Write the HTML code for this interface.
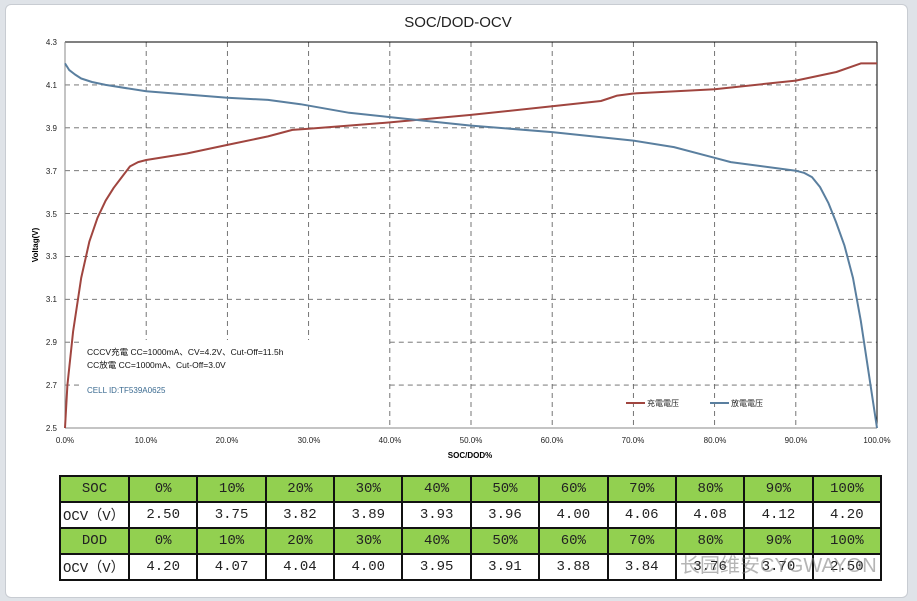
<!DOCTYPE html>
<html><head><meta charset="utf-8"><style>
body{margin:0;width:917px;height:601px;background:#dfe3e8;overflow:hidden;font-family:"Liberation Sans","Noto Sans CJK SC",sans-serif}
.panel{position:absolute;left:5px;top:4px;width:901px;height:592px;background:#fff;border:1px solid #c8ccd2;border-radius:6px}
table{position:absolute;left:59px;top:475px;width:823px;table-layout:fixed;border-collapse:collapse;font-family:"Liberation Mono","Noto Sans CJK SC",monospace;font-size:14px}
td{border:2px solid #111;height:24px;text-align:center;padding:0;color:#222;overflow:hidden;white-space:nowrap}
tr.g td{background:#92d050}
td.l{text-align:left;padding-left:2px}
</style></head><body>
<div class="panel"></div>
<svg width="917" height="601" style="position:absolute;left:0;top:0" font-family="Liberation Sans, Noto Sans CJK SC, sans-serif">
<text x="458" y="27" font-size="15" text-anchor="middle" fill="#222">SOC/DOD-OCV</text>
<g stroke="#666" stroke-width="0.9" stroke-dasharray="5,4">
<line x1="146.2" y1="42" x2="146.2" y2="340"/><line x1="227.4" y1="42" x2="227.4" y2="340"/><line x1="308.6" y1="42" x2="308.6" y2="340"/>
<line x1="389.8" y1="42" x2="389.8" y2="428"/><line x1="471" y1="42" x2="471" y2="428"/><line x1="552.2" y1="42" x2="552.2" y2="428"/><line x1="633.4" y1="42" x2="633.4" y2="428"/><line x1="714.6" y1="42" x2="714.6" y2="428"/><line x1="795.8" y1="42" x2="795.8" y2="428"/>
<line x1="65" y1="84.9" x2="877" y2="84.9"/><line x1="65" y1="127.8" x2="877" y2="127.8"/><line x1="65" y1="170.7" x2="877" y2="170.7"/><line x1="65" y1="213.6" x2="877" y2="213.6"/><line x1="65" y1="256.4" x2="877" y2="256.4"/><line x1="65" y1="299.3" x2="877" y2="299.3"/>
<line x1="65" y1="342.2" x2="80" y2="342.2"/><line x1="389.8" y1="342.2" x2="877" y2="342.2"/>
<line x1="65" y1="385.1" x2="80" y2="385.1"/><line x1="389.8" y1="385.1" x2="877" y2="385.1"/>
</g>
<line x1="65" y1="42" x2="877" y2="42" stroke="#000"/><line x1="877" y1="42" x2="877" y2="428" stroke="#000"/>
<line x1="65" y1="42" x2="65" y2="428" stroke="#888"/><line x1="65" y1="428" x2="877" y2="428" stroke="#888"/>
<g font-size="8" fill="#222" text-anchor="end">
<text x="57" y="45">4.3</text><text x="57" y="88">4.1</text><text x="57" y="131">3.9</text><text x="57" y="174">3.7</text><text x="57" y="217">3.5</text><text x="57" y="259">3.3</text><text x="57" y="302">3.1</text><text x="57" y="345">2.9</text><text x="57" y="388">2.7</text><text x="57" y="431">2.5</text>
</g>
<g font-size="8" fill="#222" text-anchor="middle">
<text x="65" y="443">0.0%</text><text x="146" y="443">10.0%</text><text x="227" y="443">20.0%</text><text x="309" y="443">30.0%</text><text x="390" y="443">40.0%</text><text x="471" y="443">50.0%</text><text x="552" y="443">60.0%</text><text x="633" y="443">70.0%</text><text x="715" y="443">80.0%</text><text x="796" y="443">90.0%</text><text x="877" y="443">100.0%</text>
</g>
<text x="470" y="458" font-size="8" font-weight="bold" text-anchor="middle">SOC/DOD%</text>
<text transform="translate(38,245) rotate(-90)" font-size="8" font-weight="bold" text-anchor="middle">Voltag(V)</text>
<text x="87" y="355" font-size="8.5" fill="#111">CCCV充電  CC=1000mA、CV=4.2V、Cut-Off=11.5h</text>
<text x="87" y="368" font-size="8.5" fill="#111">CC放電    CC=1000mA、Cut-Off=3.0V</text>
<text x="87" y="393" font-size="8" fill="#3a6a90">CELL ID:TF539A0625</text>
<line x1="626" y1="403" x2="645" y2="403" stroke="#a0453f" stroke-width="2"/><text x="647" y="406" font-size="8" fill="#222">充電電压</text>
<line x1="710" y1="403" x2="729" y2="403" stroke="#5a7f9f" stroke-width="2"/><text x="731" y="406" font-size="8" fill="#222">放電電压</text>
<polyline fill="none" stroke="#a0453f" stroke-width="2" stroke-linejoin="round" points="65,428 67.4,385.1 73.1,331.5 81.2,277.9 89.4,241.4 97.5,217.8 105.6,200.7 113.7,187.8 121.8,177.1 130,166.4 138.1,162.1 146.2,160 186.8,153.5 227.4,144.9 268,136.4 292.4,129.9 308.6,128.8 389.8,122.4 471,114.9 552.2,106.3 600.9,101 610,98 617.2,95.6 633.4,93.5 714.6,89.2 795.8,80.6 836.4,72 860.8,63.4 877,63.4"/>
<polyline fill="none" stroke="#5a7f9f" stroke-width="2" stroke-linejoin="round" points="65,63.4 69.1,69.9 75,74.5 81.2,78.5 92,82 105.6,84.9 146.2,91.3 227.4,97.8 268,99.9 300.5,104.2 349.2,112.8 389.8,117.1 471,125.6 552.2,132.1 633.4,140.6 674,147.1 714.6,157.8 730.8,162.1 795.8,170.7 803.9,172.8 812,177.1 820,187 828.3,202.8 836,222 844.5,245.7 853,278 860.8,320.8 868.9,374.4 877,428"/>
</svg>
<table>
<colgroup><col style="width:69px"><col span="10"></colgroup>
<tr class="g"><td>SOC</td><td>0%</td><td>10%</td><td>20%</td><td>30%</td><td>40%</td><td>50%</td><td>60%</td><td>70%</td><td>80%</td><td>90%</td><td>100%</td></tr>
<tr><td class="l">OCV（V）</td><td>2.50</td><td>3.75</td><td>3.82</td><td>3.89</td><td>3.93</td><td>3.96</td><td>4.00</td><td>4.06</td><td>4.08</td><td>4.12</td><td>4.20</td></tr>
<tr class="g"><td>DOD</td><td>0%</td><td>10%</td><td>20%</td><td>30%</td><td>40%</td><td>50%</td><td>60%</td><td>70%</td><td>80%</td><td>90%</td><td>100%</td></tr>
<tr><td class="l">OCV（V）</td><td>4.20</td><td>4.07</td><td>4.04</td><td>4.00</td><td>3.95</td><td>3.91</td><td>3.88</td><td>3.84</td><td>3.76</td><td>3.70</td><td>2.50</td></tr>
</table>
<div style="position:absolute;left:680px;top:549px;font-size:20px;color:rgba(120,120,120,0.55);font-family:'Liberation Sans','Noto Sans CJK SC',sans-serif">长园维安CYGWAYON</div>
</body></html>
